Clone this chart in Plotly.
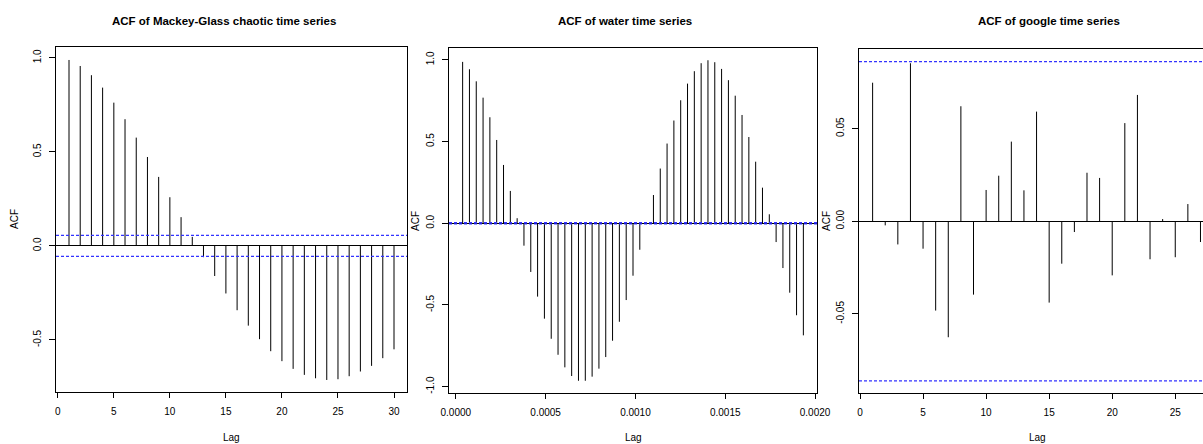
import plotly.graph_objects as go

# ---------------- data ----------------
mg_lags = list(range(1, 31))
mg_acf = [0.989, 0.957, 0.908, 0.842, 0.762, 0.674, 0.576, 0.473, 0.367, 0.259,
          0.153, 0.048, -0.060, -0.160, -0.253, -0.342, -0.424, -0.496, -0.560, -0.613,
          -0.654, -0.686, -0.704, -0.713, -0.709, -0.693, -0.668, -0.638, -0.597, -0.550]
mg_ci = 0.056

water_dt = 0.00003794
water_lags = [k * water_dt for k in range(1, 52)]
water_acf = [0.988, 0.943, 0.869, 0.769, 0.649, 0.510, 0.357, 0.198, 0.031, -0.137,
             -0.298, -0.449, -0.584, -0.707, -0.805, -0.882, -0.935, -0.964, -0.964, -0.939,
             -0.890, -0.819, -0.719, -0.603, -0.470, -0.321, -0.162, -0.005, 0.173, 0.335,
             0.488, 0.629, 0.753, 0.855, 0.931, 0.980, 0.998, 0.986, 0.945, 0.876,
             0.781, 0.663, 0.528, 0.377, 0.218, 0.055, -0.115, -0.274, -0.425, -0.563,
             -0.686]
water_ci = 0.004

google_lags = list(range(1, 28))
google_acf = [0.0748, -0.0022, -0.0125, 0.0853, -0.0148, -0.0482, -0.0626, 0.0621, -0.0396, 0.0169,
              0.0246, 0.0430, 0.0167, 0.0592, -0.0439, -0.0229, -0.0058, 0.0262, 0.0234, -0.0292,
              0.0530, 0.0682, -0.0205, 0.0012, -0.0194, 0.0093, -0.0112]
google_ci = 0.0862

titles = ["ACF of Mackey-Glass chaotic time series",
          "ACF of water time series",
          "ACF of google time series"]

mg_xticks = [0, 5, 10, 15, 20, 25, 30]
water_xticks = [0.0, 0.0005, 0.0010, 0.0015, 0.0020]
water_xticktext = ["0.0000", "0.0005", "0.0010", "0.0015", "0.0020"]
google_xticks = [0, 5, 10, 15, 20, 25, 30]
mg_yticks = [-0.5, 0.0, 0.5, 1.0]
mg_yticktext = ["-0.5", "0.0", "0.5", "1.0"]
water_yticks = [-1.0, -0.5, 0.0, 0.5, 1.0]
water_yticktext = ["-1.0", "-0.5", "0.0", "0.5", "1.0"]
google_yticks = [-0.05, 0.0, 0.05]
google_yticktext = ["-0.05", "0.00", "0.05"]

# ---------------- layout helpers ----------------
W, H = 1203, 444
FONT = "Liberation Sans, Arial, Helvetica, sans-serif"


def dx(a, b):
    return [a / W, min(b / W, 1.0)]


def dy(top, bottom):
    return [1 - bottom / H, 1 - top / H]


def stems(lags, vals):
    xs, ys = [], []
    for l, v in zip(lags, vals):
        xs += [l, l, None]
        ys += [0, v, None]
    return xs, ys


fig = go.Figure()

panels = [
    dict(lags=mg_lags, acf=mg_acf, ci=mg_ci, xa="x", ya="y"),
    dict(lags=water_lags, acf=water_acf, ci=water_ci, xa="x2", ya="y2"),
    dict(lags=google_lags, acf=google_acf, ci=google_ci, xa="x3", ya="y3"),
]

for p in panels:
    xs, ys = stems(p["lags"], p["acf"])
    fig.add_trace(go.Scatter(x=xs, y=ys, mode="lines", xaxis=p["xa"], yaxis=p["ya"],
                             line=dict(color="black", width=1), showlegend=False,
                             hoverinfo="skip"))

shapes = []
for p in panels:
    for c in (p["ci"], -p["ci"]):
        shapes.append(dict(type="line", xref=p["xa"] + " domain", x0=0, x1=1,
                           yref=p["ya"], y0=c, y1=c, layer="above",
                           line=dict(color="#3333ff", width=1.2, dash="3px,2px")))


def xaxis_cfg(domain, rng, vals, text, anchor):
    return dict(domain=domain, range=rng, anchor=anchor, showline=True, linecolor="black",
                linewidth=1, mirror=True, ticks="outside", ticklen=5, tickcolor="black",
                tickwidth=1, tickvals=vals, ticktext=text, showgrid=False, zeroline=False,
                automargin=False,
                tickfont=dict(family=FONT, size=10, color="black"), ticklabelstandoff=5)


def yaxis_cfg(domain, rng, vals, text, anchor, mirror=True):
    return dict(domain=domain, range=rng, anchor=anchor, showline=True, linecolor="black",
                linewidth=1, mirror=mirror, ticks="outside", ticklen=6, tickcolor="black",
                tickwidth=1, tickvals=vals, ticktext=text, tickangle=-90, showgrid=False,
                zeroline=True, zerolinecolor="black", zerolinewidth=1, automargin=False,
                tickfont=dict(family=FONT, size=10, color="black"), ticklabelstandoff=4)


fig.update_layout(
    template="none",
    width=W, height=H, margin=dict(l=0, r=0, t=0, b=0, pad=0), autosize=False,
    paper_bgcolor="white", plot_bgcolor="white",
    xaxis=xaxis_cfg(dx(56, 407), [-0.16, 31.16], mg_xticks, [str(v) for v in mg_xticks], "y"),
    yaxis=yaxis_cfg(dy(47, 392), [-0.777, 1.058], mg_yticks, mg_yticktext, "x"),
    xaxis2=xaxis_cfg(dx(449, 817), [-water_dt, 53 * water_dt], water_xticks, water_xticktext, "y2"),
    yaxis2=yaxis_cfg(dy(48, 393), [-1.039, 1.073], water_yticks, water_yticktext, "x2"),
    xaxis3=xaxis_cfg(dx(859, 1203), [-0.08, 27.2], google_xticks, [str(v) for v in google_xticks], "y3"),
    yaxis3=yaxis_cfg(dy(49, 393), [-0.0927, 0.0930], google_yticks, google_yticktext, "x3", mirror=False),
    shapes=shapes,
)

annotations = []
title_centers = [224, 625, 1049]
for t, cx in zip(titles, title_centers):
    annotations.append(dict(text=t, xref="paper", yref="paper", x=cx / W, y=1 - 21 / H,
                            xanchor="center", yanchor="middle", showarrow=False,
                            font=dict(family=FONT, size=11.5, color="black", weight="bold")))

lag_pos = [(231, 437), (633, 437), (1037, 437)]
for cx, cy in lag_pos:
    annotations.append(dict(text="Lag", xref="paper", yref="paper", x=cx / W, y=1 - cy / H,
                            xanchor="center", yanchor="middle", showarrow=False,
                            font=dict(family=FONT, size=10, color="black")))

acf_pos = [(15, 219), (415, 221), (826, 221)]
for cx, cy in acf_pos:
    annotations.append(dict(text="ACF", xref="paper", yref="paper", x=cx / W, y=1 - cy / H,
                            xanchor="center", yanchor="middle", showarrow=False, textangle=-90,
                            font=dict(family=FONT, size=10, color="black")))

fig.update_layout(annotations=annotations)

fig.write_html("out.html")
